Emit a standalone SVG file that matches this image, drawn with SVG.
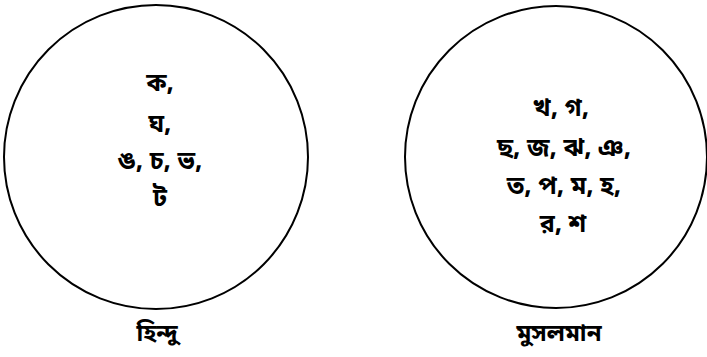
<svg xmlns="http://www.w3.org/2000/svg" width="707" height="357" viewBox="0 0 707 357">
<style>
.c{fill:none;stroke:#000;stroke-width:2}
.t{font-family:"Noto Sans Bengali","Noto Serif Bengali","Lohit Bengali","Noto Sans",sans-serif;font-weight:bold;font-size:25px;fill:#000;text-anchor:middle}
.l{font-family:"Noto Sans Bengali","Noto Serif Bengali","Lohit Bengali","Noto Sans",sans-serif;font-weight:bold;font-size:24px;fill:#000;text-anchor:middle}
</style>
<rect width="707" height="357" fill="#fff"/>
<g id="hindu">
<circle class="c" cx="156" cy="157" r="152"/>
<text class="t" x="160" y="91">ক,</text>
<text class="t" x="160" y="132">ঘ,</text>
<text class="t" x="160" y="169">ঙ, চ, ভ,</text>
<text class="t" x="160" y="206">ট</text>
<text class="l" x="157" y="341">হিন্দু</text>
</g>
<g id="muslim">
<circle class="c" cx="556" cy="157" r="151"/>
<text class="t" x="561" y="116">খ, গ,</text>
<text class="t" x="564" y="156">ছ, জ, ঝ, ঞ,</text>
<text class="t" x="564" y="194">ত, প, ম, হ,</text>
<text class="t" x="563" y="232">র, শ</text>
<text class="l" x="559" y="341">মুসলমান</text>
</g>
<g id="connectors"/>
</svg>
